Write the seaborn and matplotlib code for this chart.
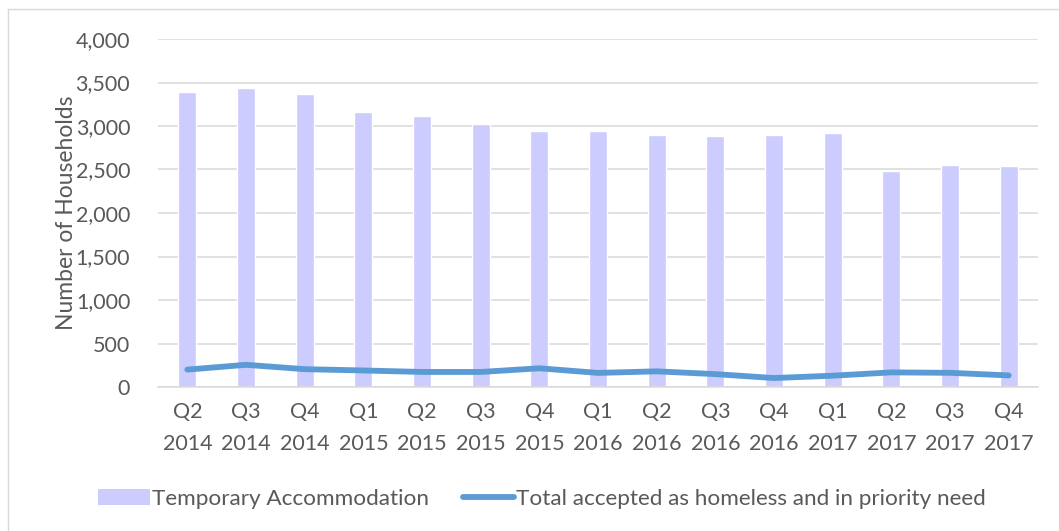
import numpy as np
import pandas as pd
import matplotlib
matplotlib.use("Agg")
import matplotlib.pyplot as plt
from matplotlib.patches import Patch
from matplotlib.lines import Line2D
import seaborn as sns

quarters = ["Q2\n2014", "Q3\n2014", "Q4\n2014", "Q1\n2015", "Q2\n2015", "Q3\n2015", "Q4\n2015",
            "Q1\n2016", "Q2\n2016", "Q3\n2016", "Q4\n2016", "Q1\n2017", "Q2\n2017", "Q3\n2017", "Q4\n2017"]
temporary = [3395, 3440, 3365, 3160, 3110, 3025, 2945, 2945, 2895, 2880, 2895, 2915, 2485, 2555, 2535]
accepted = [200, 255, 205, 190, 173, 173, 215, 162, 180, 148, 103, 130, 168, 163, 133]
y_ticks = [0, 500, 1000, 1500, 2000, 2500, 3000, 3500, 4000]

sns.set_theme(style="white")
plt.rcParams["font.family"] = ["Lato", "DejaVu Sans"]
text_color = "#595959"
fs = 15.5

fig = plt.figure(figsize=(10.59, 5.31), dpi=100)
ax = fig.add_axes([158 / 1059, 1 - 387 / 531, (1038 - 158) / 1059, (387 - 39) / 531])

df = pd.DataFrame({"quarter": quarters, "temporary": temporary, "accepted": accepted})
sns.barplot(data=df, x="quarter", y="temporary", color="#CCCCFF", saturation=1,
            width=0.31, ax=ax, zorder=2)
sns.lineplot(x=np.arange(len(quarters)), y=df["accepted"], color="#5B9BD5",
             linewidth=4.2, ax=ax, zorder=3, solid_capstyle="round", solid_joinstyle="round")

ax.set_xlim(-0.5, len(quarters) - 0.5)
ax.set_ylim(0, 4000)
ax.set_yticks(y_ticks)
ax.set_yticklabels([f"{v:,}" for v in y_ticks])
ax.set_xticks(np.arange(len(quarters)))
ax.set_xticklabels(quarters, linespacing=1.72)
ax.tick_params(axis="both", length=0, labelsize=fs, colors=text_color)
ax.tick_params(axis="y", pad=20)
ax.tick_params(axis="x", pad=11)
ax.set_xlabel("")
ax.set_ylabel("Number of Households", fontsize=16.5, color=text_color, labelpad=-1)
ax.grid(axis="y", color="#D9D9D9", linewidth=1.1, zorder=0)
ax.set_axisbelow(True)
for side in ["top", "right", "left"]:
    ax.spines[side].set_visible(False)
ax.spines["bottom"].set_color("#D9D9D9")
ax.spines["bottom"].set_linewidth(1.1)

handles = [Patch(facecolor="#CCCCFF", edgecolor="none"),
           Line2D([0], [0], color="#5B9BD5", linewidth=4.2, solid_capstyle="round")]
fig.legend(handles, ["Temporary Accommodation", "Total accepted as homeless and in priority need"],
           loc="center", bbox_to_anchor=(542 / 1059, 1 - 499 / 531), ncol=2, frameon=False,
           fontsize=16.2, labelcolor=text_color, handlelength=2.3, handletextpad=0.1,
           columnspacing=1.5)

# chart frame: only its left and top edges fall inside the image
frame = dict(color="#D9D9D9", linewidth=1.0, transform=fig.transFigure)
fig.add_artist(Line2D([7.5 / 1059, 7.5 / 1059], [0, 1 - 9 / 531], **frame))
fig.add_artist(Line2D([7.5 / 1059, 1], [1 - 9 / 531, 1 - 9 / 531], **frame))

fig.savefig("out.png", dpi=100, facecolor="white")
